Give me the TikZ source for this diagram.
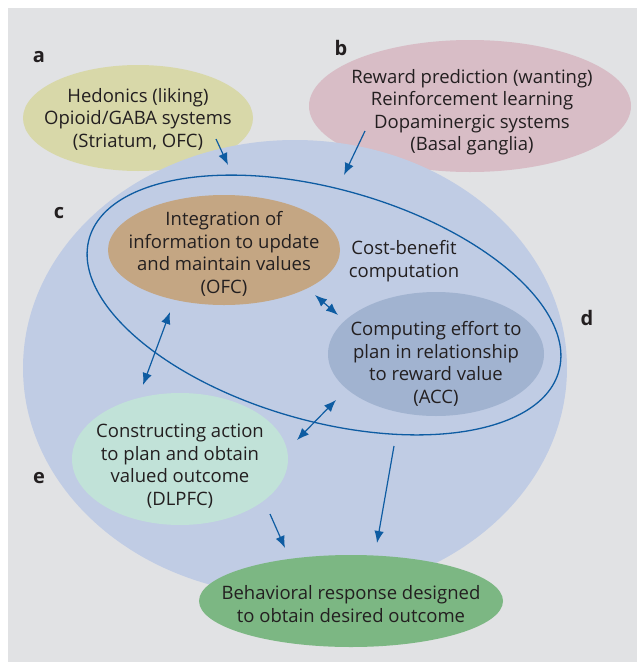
\documentclass[tikz,border=0pt]{standalone}
\usepackage{fontspec}
\setmainfont{Open Sans}
\usetikzlibrary{shapes.geometric,arrows.meta}
\definecolor{bggrey}{RGB}{225,226,228}
\definecolor{hedcol}{RGB}{216,216,169}
\definecolor{rewcol}{RGB}{216,189,198}
\definecolor{valcol}{RGB}{192,204,228}
\definecolor{ofccol}{RGB}{196,166,131}
\definecolor{acccol}{RGB}{161,179,208}
\definecolor{dlpcol}{RGB}{193,226,216}
\definecolor{behcol}{RGB}{124,183,131}
\definecolor{lineblue}{RGB}{14,92,162}
\definecolor{txt}{RGB}{35,31,32}

\begin{document}
\begin{tikzpicture}[x=1pt,y=-1pt,
    blob/.style={ellipse,inner sep=0pt,outer sep=0pt},
    words/.style={align=center,inner sep=0pt,text=txt,font=\fontsize{18.5}{22.5}\selectfont},
    tag/.style={text=txt,font=\bfseries\fontsize{20}{22}\selectfont},
    arr/.style={draw=lineblue,line width=1.2pt,-{Latex[length=12pt,width=9.5pt]}},
    darr/.style={arr,{Latex[length=12pt,width=9.5pt]}-{Latex[length=12pt,width=9.5pt]}}]
        \useasboundingbox (0,0) rectangle (637,662);
        \fill[bggrey] (8,8) rectangle (637,662);
        \node[blob,fill=hedcol,minimum width=230pt,minimum height=106pt] (hedon) at (138,118) {};
        \node[words] (hedtext) at (138,119) {Hedonics (liking)\\Opioid/GABA systems\\(Striatum, OFC)};
        \node[blob,fill=rewcol,minimum width=322pt,minimum height=132pt] (reward) at (470,106) {};
        \node[words] (rewtext) at (472,112) {Reward prediction (wanting)\\Reinforcement learning\\Dopaminergic systems\\(Basal ganglia)};
        \node[blob,fill=valcol,minimum width=544pt,minimum height=456pt] (valarea) at (295,368) {};
        \node[blob,draw=lineblue,line width=1.3pt,minimum width=488pt,minimum height=232pt,rotate=-15.8] (costben) at (324,305) {};
        \node[blob,fill=ofccol,minimum width=232pt,minimum height=110pt] (ofc) at (224,250) {};
        \node[words] (ofctext) at (224,254) {Integration of\\information to update\\and maintain values\\(OFC)};
        \node[blob,fill=acccol,minimum width=216pt,minimum height=124pt] (acc) at (436,354) {};
        \node[words] (acctext) at (436,364) {Computing effort to\\plan in relationship\\to reward value\\(ACC)};
        \node[blob,fill=dlpcol,minimum width=216pt,minimum height=132pt] (dlpfc) at (180,459) {};
        \node[words] (dlptext) at (180,466) {Constructing action\\to plan and obtain\\valued outcome\\(DLPFC)};
        \node[blob,fill=behcol,minimum width=304pt,minimum height=92pt] (behav) at (351,601) {};
        \node[words] (behtext) at (351,604) {Behavioral response designed\\to obtain desired outcome};
        \node[words] (cbtext) at (404,261) {Cost-benefit\\computation};
        \node[tag] (la) at (39,57) {a};
        \node[tag] (lb) at (341,48) {b};
        \node[tag] (lc) at (59,213) {c};
        \node[tag] (ld) at (587,318) {d};
        \node[tag] (le) at (39,478) {e};
        \coordinate (hedout) at (216,139);
        \coordinate (hedin) at (228,165);
        \coordinate (rewout) at (365,131);
        \coordinate (rewin) at (344,175);
        \coordinate (ofcacc) at (315,295);
        \coordinate (accofc) at (338,315);
        \coordinate (ofcdl) at (170,312);
        \coordinate (dlofc) at (143,385);
        \coordinate (accdl) at (336,400);
        \coordinate (dlacc) at (297,440);
        \coordinate (dlout) at (270,514);
        \coordinate (dlbeh) at (285,548);
        \coordinate (cbout) at (394,446);
        \coordinate (cbbeh) at (377,543);
        \draw[arr] (hedout) -- (hedin);
        \draw[arr] (rewout) -- (rewin);
        \draw[darr] (ofcacc) -- (accofc);
        \draw[darr] (ofcdl) -- (dlofc);
        \draw[darr] (accdl) -- (dlacc);
        \draw[arr] (dlout) -- (dlbeh);
        \draw[arr] (cbout) -- (cbbeh);
    \end{tikzpicture}
\end{document}
